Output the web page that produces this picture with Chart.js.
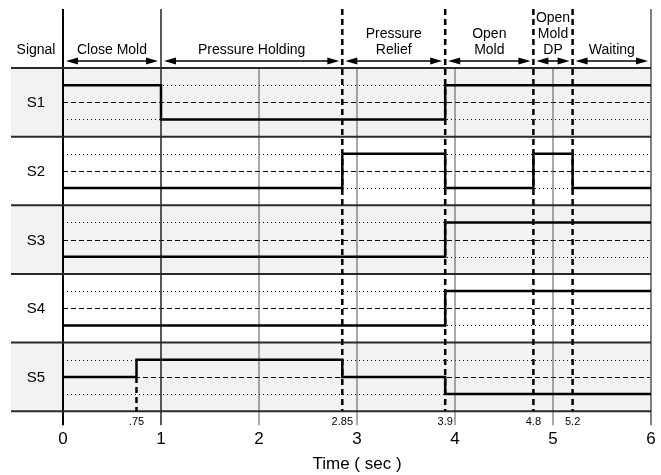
<!DOCTYPE html>
<html>
<head>
<meta charset="utf-8">
<script src="https://cdn.jsdelivr.net/npm/chart.js@4"></script>
<style>
  html, body { margin: 0; padding: 0; background: #fff; }
</style>
</head>
<body>
<canvas id="timingChart" width="661" height="475"></canvas>
<script>
// phases along the top
const phaseBounds = [0, 1, 2.85, 3.9, 4.8, 5.2, 6];
const phaseLabels = [['Close Mold'], ['Pressure Holding'], ['Pressure', 'Relief'], ['Open', 'Mold'], ['Open', 'Mold', 'DP'], ['Waiting']];

// signals: level 1 = high, 0 = middle, -1 = low
const signalNames = ['S1', 'S2', 'S3', 'S4', 'S5'];
const s1Times = [0, 1, 3.9, 6];
const s1Levels = [1, -1, 1, 1];
const s2Times = [0, 2.85, 3.9, 4.8, 5.2, 6];
const s2Levels = [-1, 1, -1, 1, -1, -1];
const s3Times = [0, 3.9, 6];
const s3Levels = [-1, 1, 1];
const s4Times = [0, 3.9, 6];
const s4Levels = [-1, 1, 1];
const s5Times = [0, 0.75, 2.85, 3.9, 6];
const s5Levels = [0, 1, 0, -1, -1];

// small labels under the plot
const markTimes = [0.75, 2.85, 3.9, 4.8, 5.2];
const markLabels = ['.75', '2.85', '3.9', '4.8', '5.2'];
const timeTicks = [0, 1, 2, 3, 4, 5, 6];

const FONT = '"Liberation Sans", Arial, sans-serif';
Chart.defaults.font.family = FONT;

const signals = [
  [s1Times, s1Levels], [s2Times, s2Levels], [s3Times, s3Levels],
  [s4Times, s4Levels], [s5Times, s5Levels]
];

// row i sits between 5-i and 4-i on the y scale
function levelValue(row, lvl) {
  return (4 - row) + 0.5 + lvl * 0.25;
}

const datasets = signals.map(([times, levels], i) => ({
  label: signalNames[i],
  data: times.map((t, k) => ({ x: t, y: levelValue(i, levels[k]) })),
  stepped: 'before',
  borderColor: '#000',
  borderWidth: 2.5,
  pointRadius: 0,
  fill: false,
  clip: 6
}));

function line(ctx, x1, y1, x2, y2) {
  ctx.beginPath();
  ctx.moveTo(x1, y1);
  ctx.lineTo(x2, y2);
  ctx.stroke();
}

function arrow(ctx, x1, x2, yy) {
  const hl = 12, hw = 3.5;
  ctx.lineWidth = 1.5;
  line(ctx, x1 + hl - 1, yy, x2 - hl + 1, yy);
  ctx.beginPath();
  ctx.moveTo(x1, yy); ctx.lineTo(x1 + hl, yy - hw); ctx.lineTo(x1 + hl, yy + hw); ctx.closePath();
  ctx.fill();
  ctx.beginPath();
  ctx.moveTo(x2, yy); ctx.lineTo(x2 - hl, yy - hw); ctx.lineTo(x2 - hl, yy + hw); ctx.closePath();
  ctx.fill();
}

const timingPlugin = {
  id: 'timing',
  beforeDatasetsDraw(chart) {
    const { ctx, chartArea: a, scales: { x, y } } = chart;
    const labelLeft = 11;
    const headTop = 9;
    ctx.save();

    // row bands and level guides
    signalNames.forEach((name, i) => {
      const top = y.getPixelForValue(5 - i);
      const bot = y.getPixelForValue(4 - i);
      ctx.fillStyle = i % 2 === 0 ? '#f2f2f2' : '#ffffff';
      ctx.fillRect(labelLeft, top, a.right - labelLeft, bot - top);

      ctx.strokeStyle = '#000';
      ctx.lineWidth = 1;
      [[1, [1, 3]], [0, [5, 3]], [-1, [1, 3]]].forEach(([lvl, dash]) => {
        const yy = Math.round(y.getPixelForValue(levelValue(i, lvl))) + 0.5;
        ctx.setLineDash(dash);
        line(ctx, a.left, yy, a.right, yy);
      });
      ctx.setLineDash([]);

      ctx.fillStyle = '#000';
      ctx.font = '15px ' + FONT;
      ctx.textAlign = 'center';
      ctx.textBaseline = 'middle';
      ctx.fillText(name, 36, (top + bot) / 2 + 1);
    });

    // solid verticals at whole seconds
    timeTicks.forEach(t => {
      const px = x.getPixelForValue(t);
      const fromTop = (t === 0 || t === 1 || t === 6);
      if (t === 0) { ctx.strokeStyle = '#000'; ctx.lineWidth = 2; }
      else if (t === 1) { ctx.strokeStyle = '#222'; ctx.lineWidth = 1.5; }
      else if (t === 6) { ctx.strokeStyle = '#808080'; ctx.lineWidth = 2; }
      else { ctx.strokeStyle = '#555'; ctx.lineWidth = 1; }
      line(ctx, px, fromTop ? headTop : a.top, px, a.bottom + 14);
    });

    // row borders
    ctx.strokeStyle = '#2a2a2a';
    ctx.lineWidth = 2;
    for (let v = 5; v >= 0; v--) {
      const yy = y.getPixelForValue(v);
      line(ctx, labelLeft, yy, a.right, yy);
    }

    // dashed phase boundaries
    ctx.strokeStyle = '#000';
    ctx.lineWidth = 2.5;
    ctx.setLineDash([6, 4]);
    phaseBounds.slice(2, -1).forEach(t => {
      const px = x.getPixelForValue(t);
      line(ctx, px, headTop, px, a.bottom);
    });
    // .75 marker in S5
    const p75 = x.getPixelForValue(markTimes[0]);
    line(ctx, p75, y.getPixelForValue(levelValue(4, 0)), p75, a.bottom);
    ctx.setLineDash([]);

    // small labels under plot
    ctx.fillStyle = '#000';
    ctx.font = '11px ' + FONT;
    ctx.textAlign = 'center';
    ctx.textBaseline = 'alphabetic';
    markTimes.forEach((t, k) => ctx.fillText(markLabels[k], x.getPixelForValue(t), a.bottom + 14));

    // header
    ctx.font = '14px ' + FONT;
    ctx.fillText('Signal', 36, 54);
    phaseLabels.forEach((lines, k) => {
      const x1 = x.getPixelForValue(phaseBounds[k]);
      const x2 = x.getPixelForValue(phaseBounds[k + 1]);
      const cx = (x1 + x2) / 2;
      lines.forEach((txt, j) => {
        ctx.fillText(txt, cx, 54 - (lines.length - 1 - j) * 16);
      });
      arrow(ctx, x1 + 3, x2 - 3, 61);
    });

    ctx.restore();
  }
};

new Chart(document.getElementById('timingChart'), {
  type: 'line',
  data: { datasets },
  options: {
    responsive: false,
    animation: false,
    maintainAspectRatio: false,
    layout: { padding: { left: 63, right: 10, top: 68, bottom: 0 } },
    plugins: { legend: { display: false }, tooltip: { enabled: false } },
    scales: {
      x: {
        type: 'linear',
        min: 0,
        max: 6,
        border: { display: false },
        grid: { drawOnChartArea: false, tickLength: 14, color: 'rgba(0,0,0,0)' },
        ticks: { stepSize: 1, padding: 4, color: '#000', font: { size: 17 } },
        title: { display: true, text: 'Time ( sec )', color: '#000', font: { size: 17 }, padding: { top: 1, bottom: 0 } }
      },
      y: { type: 'linear', min: 0, max: 5, display: false }
    }
  },
  plugins: [timingPlugin]
});
</script>
</body>
</html>
